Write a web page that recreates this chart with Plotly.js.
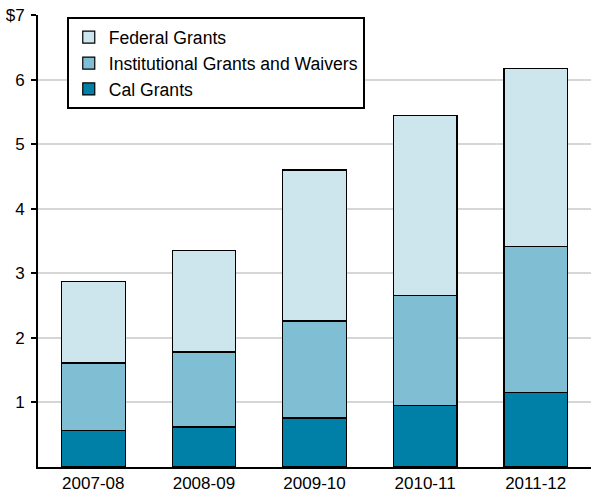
<!DOCTYPE html>
<html><head><meta charset="utf-8">
<script src="https://cdn.plot.ly/plotly-3.0.1.min.js"></script>
<style>html,body{margin:0;padding:0;background:#fff}</style>
</head><body>
<div id="chart" style="width:591px;height:494px"></div>
<script>
const years = ["2007-08", "2008-09", "2009-10", "2010-11", "2011-12"];
const calGrants = [0.56, 0.62, 0.76, 0.95, 1.16];
const institutionalGrants = [1.05, 1.16, 1.50, 1.70, 2.25];
const federalGrants = [1.26, 1.57, 2.34, 2.79, 2.76];
const yTickVals = [1, 2, 3, 4, 5, 6, 7];
const yTickText = ["1", "2", "3", "4", "5", "6", "$7"];

const line = {color: "#000", width: 1.2};
const traces = [
  {type: "bar", name: "Cal Grants", x: years, y: calGrants, marker: {color: "#0080a6", line: line}},
  {type: "bar", name: "Institutional Grants and Waivers", x: years, y: institutionalGrants, marker: {color: "#80bfd3", line: line}},
  {type: "bar", name: "Federal Grants", x: years, y: federalGrants, marker: {color: "#cde5ec", line: line}}
];
const layout = {
  width: 591, height: 494,
  margin: {l: 38, r: 0, t: 15, b: 27},
  barmode: "stack",
  bargap: 0.425,
  paper_bgcolor: "#fff", plot_bgcolor: "#fff",
  font: {family: "Liberation Sans, Arial, sans-serif", size: 17, color: "#000"},
  showlegend: true,
  legend: {
    x: 0.052, y: 0.995, xanchor: "left", yanchor: "top",
    traceorder: "reversed",
    bgcolor: "#fff", bordercolor: "#000", borderwidth: 2,
    font: {size: 17.6}, tracegroupgap: 0
  },
  xaxis: {
    type: "category",
    showline: true, linecolor: "#000", linewidth: 2,
    ticks: "", showgrid: false, tickfont: {size: 17}, fixedrange: true
  },
  yaxis: {
    range: [0, 7], tickvals: yTickVals, ticktext: yTickText,
    showline: true, linecolor: "#000", linewidth: 2,
    ticks: "outside", ticklen: 5, tickwidth: 2, tickcolor: "#000",
    showgrid: true, gridcolor: "#d6d6d6", gridwidth: 2,
    zeroline: false, tickfont: {size: 17}, ticklabelstandoff: 3
  }
};
Plotly.newPlot("chart", traces, layout, {displayModeBar: false, staticPlot: true});
</script>
</body></html>
